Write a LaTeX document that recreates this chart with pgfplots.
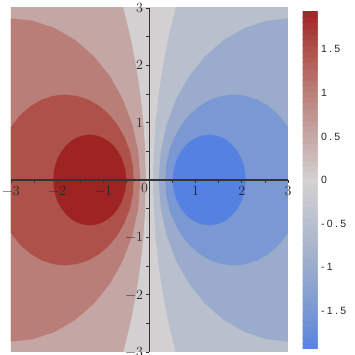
\documentclass[border=0pt]{standalone}
\usepackage{fontspec}
\usepackage{pgfplots}
\pgfplotsset{compat=1.18}
\newfontfamily\cbfont[LetterSpace=22]{Liberation Sans}
\definecolor{rA}{RGB}{158,36,36}
\definecolor{rB}{RGB}{173,81,73}
\definecolor{rC}{RGB}{185,126,120}
\definecolor{rD}{RGB}{196,166,165}
\definecolor{gZ}{RGB}{210,208,209}
\definecolor{bD}{RGB}{184,191,205}
\definecolor{bC}{RGB}{154,171,203}
\definecolor{bB}{RGB}{122,152,211}
\definecolor{bA}{RGB}{85,129,224}
\begin{document}
\begin{tikzpicture}
\begin{axis}[
  name=main,
  scale only axis, width=277pt, height=344pt,
  xmin=-3, xmax=3, ymin=-3, ymax=3,
  axis lines=middle, axis on top,
  axis line style={-, black!80, line width=1.1pt},
  xtick={-3,-2,-1,1,2,3}, ytick={-3,-2,-1,1,2,3},
  xticklabels={−3,−2,−1,1,2,3}, yticklabels={−3,−2,−1,1,2,3},
  minor xtick={-2.5,-1.5,-0.5,0.5,1.5,2.5},
  minor ytick={-2.5,-1.5,-0.5,0.5,1.5,2.5},
  hide obscured x ticks=false, hide obscured y ticks=false,
  extra x ticks={0}, extra x tick labels={0},
  extra x tick style={major tick length=0pt, xticklabel style={xshift=-5pt}},
  tick align=outside, major tick length=3pt, minor tick length=3pt,
  tick style={black!80, line width=0.8pt},
  xticklabel style={font=\fontsize{14}{16}\selectfont, text=black!85},
  yticklabel style={font=\fontsize{14}{16}\selectfont, text=black!85},
  colormap={maple}{rgb255(0)=(86,130,224) rgb255(44)=(122,152,211) rgb255(94)=(154,171,203) rgb255(144)=(184,191,205) rgb255(194)=(211,209,209) rgb255(244)=(197,168,166) rgb255(294)=(187,128,122) rgb255(344)=(174,82,74) rgb255(388)=(158,36,36)},
  point meta min=-1.94, point meta max=1.94,
  colorbar sampled,
  colorbar style={
    samples=60,
    width=15pt, height=338pt,
    at={(parent axis.east)}, anchor=west, xshift=6pt,
    axis lines=box, axis line style={draw=none},
    major tick length=0pt, minor tick length=0pt,
    ytick={-1.5,-1,-0.5,0,0.5,1,1.5},
    yticklabels={-1.5,-1,-0.5,0,0.5,1,1.5},
    yticklabel style={font=\cbfont\fontsize{10.5}{12}\selectfont, text=black!85, xshift=0pt},
  },
]
% background
\addplot[fill=gZ, draw=none] coordinates {(-3.5,-3.5) (3.5,-3.5) (3.5,3.5) (-3.5,3.5)} -- cycle;
% red level 4
\addplot[fill=rD, draw=none] coordinates {(-0.673,3.3) (-0.567,3) (-0.415,2.5) (-0.293,2) (-0.199,1.5) (-0.133,1) (-0.093,0.5) (-0.080,0) (-0.093,-0.5) (-0.133,-1) (-0.199,-1.5) (-0.293,-2) (-0.415,-2.5) (-0.567,-3) (-0.673,-3.3) (-3.5,-3.3) (-3.5,3.3)} -- cycle;
% blue level 4
\addplot[fill=bD, draw=none] coordinates {(0.673,3.3) (0.567,3) (0.415,2.5) (0.293,2) (0.199,1.5) (0.133,1) (0.093,0.5) (0.080,0) (0.093,-0.5) (0.133,-1) (0.199,-1.5) (0.293,-2) (0.415,-2.5) (0.567,-3) (0.673,-3.3) (3.5,-3.3) (3.5,3.3)} -- cycle;
% red level 3
\addplot[fill=rC, draw=none] coordinates {(-0.200,0) (-0.243,0.490) (-0.370,0.964) (-0.578,1.410) (-0.860,1.813) (-1.207,2.160) (-1.610,2.442) (-2.056,2.650) (-2.530,2.777) (-3.020,2.820) (-3.5,2.820) (-3.5,-2.820) (-3.020,-2.820) (-2.530,-2.777) (-2.056,-2.650) (-1.610,-2.442) (-1.207,-2.160) (-0.860,-1.813) (-0.578,-1.410) (-0.370,-0.964) (-0.243,-0.490)} -- cycle;
% blue level 3
\addplot[fill=bC, draw=none] coordinates {(0.200,0) (0.243,0.490) (0.370,0.964) (0.578,1.410) (0.860,1.813) (1.207,2.160) (1.610,2.442) (2.056,2.650) (2.530,2.777) (3.020,2.820) (3.5,2.820) (3.5,-2.820) (3.020,-2.820) (2.530,-2.777) (2.056,-2.650) (1.610,-2.442) (1.207,-2.160) (0.860,-1.813) (0.578,-1.410) (0.370,-0.964) (0.243,-0.490)} -- cycle;
% red level 2
\addplot[fill=rB, draw=none] coordinates {(-0.340,0) (-0.363,0.259) (-0.430,0.510) (-0.540,0.745) (-0.689,0.958) (-0.872,1.141) (-1.085,1.290) (-1.320,1.400) (-1.571,1.467) (-1.830,1.490) (-2.089,1.467) (-2.340,1.400) (-2.575,1.290) (-2.788,1.141) (-2.971,0.958) (-3.120,0.745) (-3.230,0.510) (-3.297,0.259) (-3.320,0) (-3.297,-0.259) (-3.230,-0.510) (-3.120,-0.745) (-2.971,-0.958) (-2.788,-1.141) (-2.575,-1.290) (-2.340,-1.400) (-2.089,-1.467) (-1.830,-1.490) (-1.571,-1.467) (-1.320,-1.400) (-1.085,-1.290) (-0.872,-1.141) (-0.689,-0.958) (-0.540,-0.745) (-0.430,-0.510) (-0.363,-0.259)} -- cycle;
% blue level 2
\addplot[fill=bB, draw=none] coordinates {(0.340,0) (0.363,0.259) (0.430,0.510) (0.540,0.745) (0.689,0.958) (0.872,1.141) (1.085,1.290) (1.320,1.400) (1.571,1.467) (1.830,1.490) (2.089,1.467) (2.340,1.400) (2.575,1.290) (2.788,1.141) (2.971,0.958) (3.120,0.745) (3.230,0.510) (3.297,0.259) (3.320,0) (3.297,-0.259) (3.230,-0.510) (3.120,-0.745) (2.971,-0.958) (2.788,-1.141) (2.575,-1.290) (2.340,-1.400) (2.089,-1.467) (1.830,-1.490) (1.571,-1.467) (1.320,-1.400) (1.085,-1.290) (0.872,-1.141) (0.689,-0.958) (0.540,-0.745) (0.430,-0.510) (0.363,-0.259)} -- cycle;
% red level 1
\addplot[fill=rA, draw=none] coordinates {(-0.505,0) (-0.517,0.137) (-0.553,0.270) (-0.611,0.395) (-0.690,0.508) (-0.787,0.605) (-0.900,0.684) (-1.025,0.742) (-1.158,0.778) (-1.295,0.790) (-1.432,0.778) (-1.565,0.742) (-1.690,0.684) (-1.803,0.605) (-1.900,0.508) (-1.979,0.395) (-2.037,0.270) (-2.073,0.137) (-2.085,0) (-2.073,-0.137) (-2.037,-0.270) (-1.979,-0.395) (-1.900,-0.508) (-1.803,-0.605) (-1.690,-0.684) (-1.565,-0.742) (-1.432,-0.778) (-1.295,-0.790) (-1.158,-0.778) (-1.025,-0.742) (-0.900,-0.684) (-0.787,-0.605) (-0.690,-0.508) (-0.611,-0.395) (-0.553,-0.270) (-0.517,-0.137)} -- cycle;
% blue level 1
\addplot[fill=bA, draw=none] coordinates {(0.505,0) (0.517,0.137) (0.553,0.270) (0.611,0.395) (0.690,0.508) (0.787,0.605) (0.900,0.684) (1.025,0.742) (1.158,0.778) (1.295,0.790) (1.432,0.778) (1.565,0.742) (1.690,0.684) (1.803,0.605) (1.900,0.508) (1.979,0.395) (2.037,0.270) (2.073,0.137) (2.085,0) (2.073,-0.137) (2.037,-0.270) (1.979,-0.395) (1.900,-0.508) (1.803,-0.605) (1.690,-0.684) (1.565,-0.742) (1.432,-0.778) (1.295,-0.790) (1.158,-0.778) (1.025,-0.742) (0.900,-0.684) (0.787,-0.605) (0.690,-0.508) (0.611,-0.395) (0.553,-0.270) (0.517,-0.137)} -- cycle;
\end{axis}
\pgfresetboundingbox
\path[use as bounding box] ([xshift=-11pt,yshift=-3pt]main.south west) rectangle ([xshift=67pt,yshift=8pt]main.north east);
\end{tikzpicture}
\end{document}
